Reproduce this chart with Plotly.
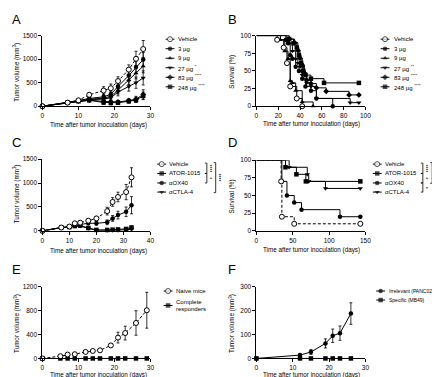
import plotly.graph_objects as go

W, H = 440, 377
FONT = "Liberation Sans, Arial, sans-serif"

# ---------------- Panel A: tumor volume, dose titration ----------------
a_days = [0, 7, 10, 13, 17, 19, 21, 24, 26, 28]
a_vehicle = [0, 76, 125, 243, 333, 382, 534, 777, 1006, 1215]
a_vehicle_err = [0, 15, 30, 30, 80, 90, 90, 100, 160, 180]
a_3ug = [0, 75, 120, 165, 200, 250, 420, 650, 830, 990]
a_3ug_err = [0, 10, 25, 30, 60, 70, 90, 110, 130, 150]
a_9ug = [0, 75, 110, 150, 170, 210, 340, 560, 700, 850]
a_9ug_err = [0, 10, 20, 30, 50, 60, 80, 100, 120, 140]
a_27ug = [0, 75, 105, 140, 150, 180, 300, 420, 500, 600]
a_27ug_err = [0, 10, 20, 25, 50, 60, 80, 100, 120, 150]
a_83ug = [0, 75, 110, 130, 100, 90, 90, 120, 150, 250]
a_83ug_err = [0, 10, 20, 25, 40, 40, 30, 40, 60, 100]
a_248ug = [0, 75, 105, 125, 80, 70, 75, 105, 130, 220]
a_248ug_err = [0, 10, 20, 25, 40, 40, 30, 40, 50, 80]

# ---------------- Panel B: survival, dose titration ----------------
b_vehicle_t = [0, 19, 25, 28, 31, 37, 42]
b_vehicle_s = [100, 94, 83, 61, 28, 11, 0]
b_3ug_t = [0, 27, 29, 31, 33, 36, 39, 42, 45, 50, 55, 70]
b_3ug_s = [100, 94, 89, 72, 67, 56, 50, 39, 28, 22, 11, 0]
b_9ug_t = [0, 22, 26, 29, 31, 33, 36, 42, 52]
b_9ug_s = [100, 94, 78, 67, 36, 33, 22, 6, 0]
b_27ug_t = [0, 28, 30, 33, 36, 38, 40, 42, 46, 50, 55, 86, 94]
b_27ug_s = [100, 94, 89, 78, 67, 61, 56, 44, 33, 28, 11, 5, 5]
b_83ug_t = [0, 30, 35, 38, 40, 42, 44, 46, 50, 55, 64, 85, 94]
b_83ug_s = [100, 95, 90, 79, 68, 58, 47, 37, 32, 26, 21, 16, 16]
b_248ug_t = [0, 30, 34, 37, 39, 41, 43, 45, 50, 62, 94]
b_248ug_s = [100, 95, 89, 83, 72, 61, 50, 44, 39, 33, 33]

# ---------------- Panel C: tumor volume, comparison ----------------
c_days = [0, 7, 10, 12, 14, 17, 20, 24, 26, 28, 31, 33]
c_vehicle = [0, 70, 90, 158, 172, 213, 261, 413, 605, 709, 812, 1121]
c_vehicle_err = [0, 10, 15, 20, 25, 30, 40, 80, 90, 100, 160, 200]
c_ator = [0, 70, 80, 100, 110, 60, 20, 20, 25, 30, 40, 70]
c_ator_err = [0, 10, 10, 15, 15, 20, 10, 10, 10, 15, 20, 30]
c_ox40 = [0, 70, 90, 120, 130, 160, 158, 179, 261, 330, 399, 537]
c_ox40_err = [0, 10, 15, 20, 20, 30, 40, 50, 60, 80, 100, 180]
c_ctla4 = [0, 70, 80, 100, 100, 50, 10, 10, 10, 10, 20, 40]
c_ctla4_err = [0, 10, 10, 15, 15, 20, 8, 8, 8, 10, 15, 25]

# ---------------- Panel D: survival, comparison ----------------
d_vehicle_t = [0, 34, 35, 52, 143]
d_vehicle_s = [100, 70, 20, 10, 10]
d_ator_t = [0, 40, 55, 68, 143]
d_ator_s = [100, 90, 80, 70, 70]
d_ox40_t = [0, 35, 42, 52, 62, 115, 143]
d_ox40_s = [100, 70, 50, 40, 30, 20, 20]
d_ctla4_t = [0, 45, 70, 72, 95, 143]
d_ctla4_s = [100, 90, 80, 70, 60, 60]

# ---------------- Panel E: rechallenge ----------------
e_days = [0, 5, 7, 9, 12, 14, 16, 19, 21, 23, 26, 29]
e_naive = [0, 38, 65, 71, 109, 125, 136, 218, 349, 425, 594, 807]
e_naive_err = [0, 8, 10, 10, 15, 15, 15, 25, 90, 115, 205, 300]
e_responders = [0, 0, 0, 0, 0, 0, 0, 0, 0, 0, 0, 0]

# ---------------- Panel F: specificity ----------------
f_days = [0, 12, 15, 19, 21, 23, 26]
f_irrelevant = [0, 14, 27, 63, 95, 106, 188]
f_irrelevant_err = [0, 5, 10, 19, 28, 30, 45]
f_specific = [0, 0, 0, 0, 0, 0, 0]

fig = go.Figure()

# axis boxes in pixels: (x0, x1, ytop, ybottom)
panels = {
    1: dict(box=(33, 143, 24, 96), xr=[0, 30], xt=[0, 10, 20, 30], yr=[0, 1500], yt=[0, 500, 1000, 1500]),
    2: dict(box=(251, 362, 24, 96), xr=[0, 100], xt=[0, 20, 40, 60, 80, 100], yr=[0, 100], yt=[0, 25, 50, 75, 100]),
    3: dict(box=(33, 143, 150, 223), xr=[0, 40], xt=[0, 10, 20, 30, 40], yr=[0, 1500], yt=[0, 500, 1000, 1500]),
    4: dict(box=(251, 362, 151, 223), xr=[0, 150], xt=[0, 50, 100, 150], yr=[0, 100], yt=[0, 25, 50, 75, 100]),
    5: dict(box=(33, 143, 280, 353), xr=[0, 30], xt=[0, 10, 20, 30], yr=[0, 1200], yt=[0, 400, 800, 1200]),
    6: dict(box=(251, 362, 280, 353), xr=[0, 30], xt=[0, 10, 20, 30], yr=[0, 300], yt=[0, 100, 200, 300]),
}

layout_axes = {}
for i, p in panels.items():
    x0, x1, yt_, yb = p["box"]
    sfx = "" if i == 1 else str(i)
    common = dict(showgrid=False, zeroline=False, showline=True, linecolor="black", linewidth=1,
                  ticks="outside", ticklen=3, tickwidth=1, tickcolor="black",
                  tickfont=dict(size=6.5, color="black", family=FONT), fixedrange=True)
    layout_axes["xaxis" + sfx] = dict(domain=[x0 / W, x1 / W], range=p["xr"], tickvals=p["xt"],
                                      anchor="y" + sfx, **common)
    layout_axes["yaxis" + sfx] = dict(domain=[1 - yb / H, 1 - yt_ / H], range=p["yr"], tickvals=p["yt"],
                                      anchor="x" + sfx, **common)

# legend strips (pixel coordinates), not overlapping the data panels
LEG = {7: (145, 222), 8: (364, 440)}
for k, (lx0, lx1) in LEG.items():
    layout_axes["xaxis%d" % k] = dict(domain=[lx0 / W, lx1 / W], range=[lx0, lx1], visible=False,
                                      anchor="y%d" % k, fixedrange=True)
    layout_axes["yaxis%d" % k] = dict(domain=[0, 1], range=[H, 0], visible=False,
                                      anchor="x%d" % k, fixedrange=True)

MS = 4.5


def sym_marker(sym, open_=False, size=MS):
    if open_:
        return dict(symbol=sym, size=size + 0.5, color="white", line=dict(color="black", width=1))
    return dict(symbol=sym, size=size, color="black", line=dict(color="black", width=0))


def tumor(ax, x, y, err, sym, open_=False, dash="solid"):
    sfx = "" if ax == 1 else str(ax)
    ey = dict(type="data", array=err, visible=True, color="black", thickness=0.8, width=1.5) if err else None
    fig.add_trace(go.Scatter(
        x=x, y=y, mode="lines+markers", xaxis="x" + sfx, yaxis="y" + sfx,
        line=dict(color="black", width=1, dash=dash),
        marker=sym_marker(sym, open_), error_y=ey,
        cliponaxis=False, showlegend=False, hoverinfo="skip"))


def survival(ax, t, s, sym, open_=False, dash="solid"):
    sfx = "" if ax == 1 else str(ax)
    fig.add_trace(go.Scatter(
        x=t, y=s, mode="lines", xaxis="x" + sfx, yaxis="y" + sfx, line_shape="hv",
        line=dict(color="black", width=1, dash=dash), cliponaxis=False, showlegend=False, hoverinfo="skip"))
    fig.add_trace(go.Scatter(
        x=t[1:], y=s[1:], mode="markers", xaxis="x" + sfx, yaxis="y" + sfx,
        marker=sym_marker(sym, open_), cliponaxis=False, showlegend=False, hoverinfo="skip"))


# Panel A
tumor(1, a_days, a_248ug, a_248ug_err, "square")
tumor(1, a_days, a_83ug, a_83ug_err, "diamond")
tumor(1, a_days, a_27ug, a_27ug_err, "triangle-down")
tumor(1, a_days, a_9ug, a_9ug_err, "triangle-up")
tumor(1, a_days, a_3ug, a_3ug_err, "circle")
tumor(1, a_days, a_vehicle, a_vehicle_err, "circle", open_=True, dash="3px,2px")

# Panel B
survival(2, b_248ug_t, b_248ug_s, "square")
survival(2, b_83ug_t, b_83ug_s, "diamond")
survival(2, b_27ug_t, b_27ug_s, "triangle-down")
survival(2, b_9ug_t, b_9ug_s, "triangle-up")
survival(2, b_3ug_t, b_3ug_s, "circle")
survival(2, b_vehicle_t, b_vehicle_s, "circle", open_=True)

# Panel C
tumor(3, c_days, c_ctla4, c_ctla4_err, "triangle-down")
tumor(3, c_days, c_ator, c_ator_err, "square")
tumor(3, c_days, c_ox40, c_ox40_err, "circle")
tumor(3, c_days, c_vehicle, c_vehicle_err, "circle", open_=True, dash="3px,2px")

# Panel D
survival(4, d_ctla4_t, d_ctla4_s, "triangle-down")
survival(4, d_ator_t, d_ator_s, "square")
survival(4, d_ox40_t, d_ox40_s, "circle")
survival(4, d_vehicle_t, d_vehicle_s, "circle", open_=True, dash="3px,2px")

# Panel E
tumor(5, e_days, e_responders, None, "square")
tumor(5, e_days, e_naive, e_naive_err, "circle", open_=True, dash="3px,2px")

# Panel F
tumor(6, f_days, f_specific, None, "square")
tumor(6, f_days, f_irrelevant, f_irrelevant_err, "circle")

annotations = []


def txt(x, y, s, size=6.5, angle=0, xanchor="left", yanchor="middle"):
    annotations.append(dict(x=x / W, y=1 - y / H, xref="paper", yref="paper", text=s, showarrow=False,
                            textangle=angle, xanchor=xanchor, yanchor=yanchor, borderpad=0,
                            font=dict(size=size, color="black", family=FONT)))


def legend(cx, tx, rows, entries, size=6.0):
    k = 7 if cx < 250 else 8
    for yy, (label, sym, open_, dash) in zip(rows, entries):
        fig.add_trace(go.Scatter(
            x=[cx - 4.5, cx, cx + 4.5], y=[yy, yy, yy], mode="lines+markers", xaxis="x%d" % k, yaxis="y%d" % k,
            line=dict(color="black", width=1, dash=dash),
            marker=dict(symbol=sym, size=[0, MS + (0.5 if open_ else 0), 0],
                        color="white" if open_ else "black",
                        line=dict(color="black", width=1 if open_ else 0)),
            cliponaxis=False, showlegend=False, hoverinfo="skip"))
        if isinstance(label, (list, tuple)):
            txt(tx, yy - 3.4, label[0], size=size)
            txt(tx, yy + 3.4, label[1], size=size)
        else:
            txt(tx, yy, label, size=size)


dose_entries_a = [("Vehicle", "circle", True, "2px,1.5px"), ("3 µg", "circle", False, "solid"),
                  ("9 µg", "triangle-up", False, "solid"), ("27 µg <sup>*</sup>", "triangle-down", False, "solid"),
                  ("83 µg <sup>****</sup>", "diamond", False, "solid"),
                  ("248 µg <sup>****</sup>", "square", False, "solid")]
dose_entries_b = [("Vehicle", "circle", True, "solid"), ("3 µg", "circle", False, "solid"),
                  ("9 µg", "triangle-up", False, "solid"), ("27 µg <sup>**</sup>", "triangle-down", False, "solid"),
                  ("83 µg <sup>****</sup>", "diamond", False, "solid"),
                  ("248 µg <sup>****</sup>", "square", False, "solid")]
rows6 = [27.7, 37.4, 47.1, 56.8, 66.5, 76.2]
legend(163, 170.5, rows6, dose_entries_a)
legend(382, 390, rows6, dose_entries_b)

cmp_entries = [("Vehicle", "circle", True, "2px,1.5px"), ("ATOR-1015", "square", False, "solid"),
               ("αOX40", "circle", False, "solid"), ("αCTLA-4", "triangle-down", False, "solid")]
rows4c = [155, 164.5, 174.2, 183.5]
legend(154.5, 161, rows4c, cmp_entries)
legend(374, 381, rows4c, cmp_entries)

legend(161, 168, [284.3, 299], [("Naive mice", "circle", True, "2px,1.5px"),
                                (("Complete", "responders"), "square", False, "solid")])
legend(377.5, 384.5, [284.3, 293.5], [("Irrelevant (PANC02)", "circle", False, "solid"),
                                      ("Specific (MB49)", "square", False, "solid")], size=5.0)

# significance brackets
shapes = []


def bracket(x, y0, y1, tick=2):
    for seg in ([(x - tick, y0), (x, y0)], [(x, y0), (x, y1)], [(x, y1), (x - tick, y1)]):
        shapes.append(dict(type="line", xref="paper", yref="paper", x0=seg[0][0] / W, y0=1 - seg[0][1] / H,
                           x1=seg[1][0] / W, y1=1 - seg[1][1] / H, line=dict(color="black", width=0.8)))


# C
bracket(200.5, 154, 164.5)
bracket(200.5, 164.5, 174.2)
bracket(209.5, 153.5, 184)
txt(203.5, 159.3, "****", size=5, angle=90, xanchor="center")
txt(203.5, 169.3, "*", size=5, angle=90, xanchor="center")
txt(213, 168.8, "****", size=5, angle=90, xanchor="center")
# D
bracket(420.5, 154, 164.5)
bracket(420.5, 164.5, 174.2)
bracket(420.5, 174.2, 183.5)
bracket(430, 153.5, 174.5)
txt(423.5, 159.3, "****", size=5, angle=90, xanchor="center")
txt(423.5, 169.3, "*", size=5, angle=90, xanchor="center")
txt(423.5, 178.8, "*", size=5, angle=90, xanchor="center")
txt(434, 164, "**", size=5, angle=90, xanchor="center")

# axis titles
xt = "Time after tumor inoculation (days)"
tv = "Tumor volume (mm<sup>3</sup>)"
txt(90, 115.5, xt, xanchor="center", size=6.3)
txt(307, 114.5, xt, xanchor="center", size=6.3)
txt(90, 243.5, xt, xanchor="center", size=6.3)
txt(307, 243, xt, xanchor="center", size=6.3)
txt(90, 370, xt, xanchor="center", size=6.3)
txt(307, 370, xt, xanchor="center", size=6.3)
txt(7, 61, tv, angle=-90, xanchor="center", size=6.3)
txt(226, 61, "Survival (%)", angle=-90, xanchor="center", size=6.3)
txt(7, 185, tv, angle=-90, xanchor="center", size=6.3)
txt(226, 188, "Survival (%)", angle=-90, xanchor="center", size=6.3)
txt(7, 317, tv, angle=-90, xanchor="center", size=6.3)
txt(226, 317, tv, angle=-90, xanchor="center", size=6.3)

# panel letters
for letter, x, y in [("A", 1.5, 8), ("B", 221, 8), ("C", 1.5, 132.5), ("D", 221, 132.5),
                     ("E", 1.5, 262.5), ("F", 221, 262.5)]:
    txt(x, y, letter, size=13)

fig.update_layout(
    width=W, height=H, margin=dict(l=0, r=0, t=0, b=0),
    paper_bgcolor="white", plot_bgcolor="rgba(0,0,0,0)",
    font=dict(family=FONT, size=6.5, color="black"),
    showlegend=False, annotations=annotations, shapes=shapes,
    **layout_axes)

fig.write_html("out.html")
